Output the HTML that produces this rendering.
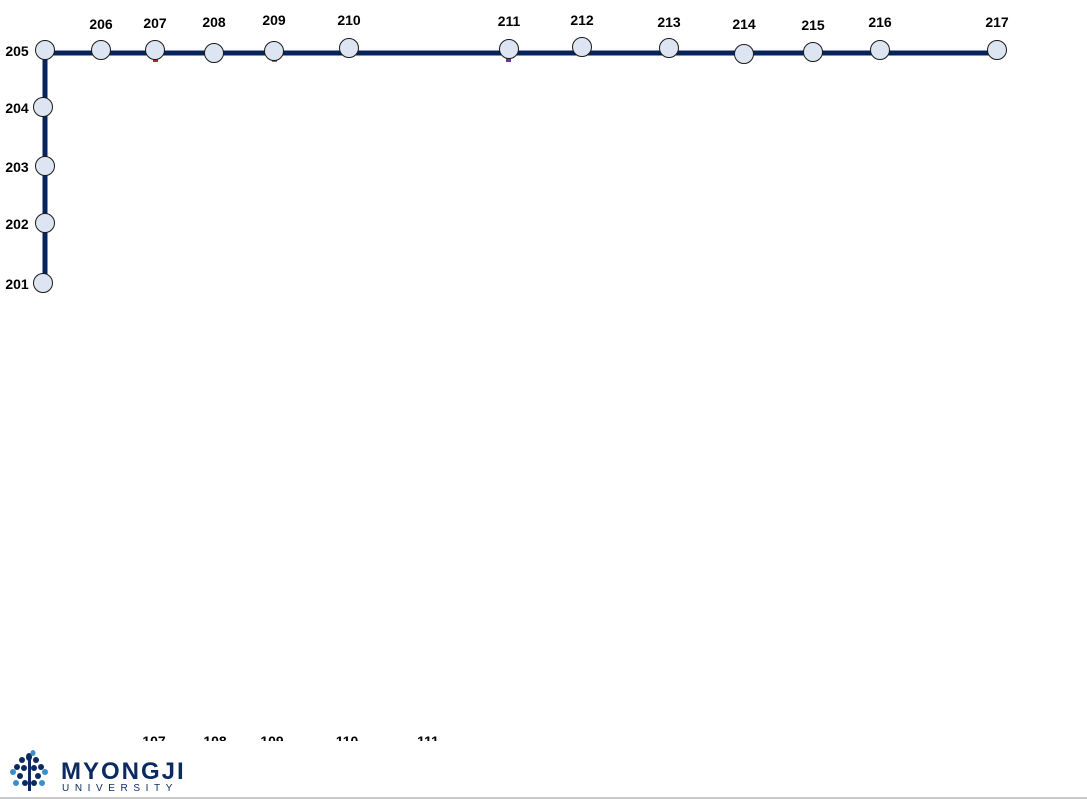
<!DOCTYPE html>
<html><head><meta charset="utf-8">
<style>
body{margin:0;width:1087px;height:799px;background:#fff;overflow:hidden;font-family:"Liberation Sans",sans-serif;}
svg{position:absolute;left:0;top:0}
</style></head>
<body>
<svg id="map" width="1087" height="799">
  <line x1="45" y1="53" x2="997" y2="53" stroke="#06245c" stroke-width="5"/>
  <line x1="45" y1="50" x2="45" y2="283" stroke="#06245c" stroke-width="5"/>
  <rect x="153" y="58" width="5" height="4" fill="#a0302a"/>
  <rect x="272" y="58" width="5" height="4" fill="#3a7fc8"/>
  <rect x="506" y="57" width="5" height="5" fill="#7030a0"/>
  <g id="stations"></g>
  <g font-size="14" font-weight="bold">
    <svg x="0" y="733" width="1087" height="8" overflow="hidden">
      <text x="154" y="13" text-anchor="middle">107</text>
      <text x="215" y="13" text-anchor="middle">108</text>
      <text x="272" y="13" text-anchor="middle">109</text>
      <text x="347" y="13" text-anchor="middle">110</text>
      <text x="428" y="13" text-anchor="middle">111</text>
    </svg>
  </g>
  <g>
    <g fill="#0b2a5f">
      <rect x="28" y="758" width="3" height="33"/>
      <ellipse cx="29" cy="757" rx="3" ry="4"/><ellipse cx="22" cy="760" rx="3" ry="3"/><ellipse cx="36" cy="760" rx="3" ry="3"/>
      <ellipse cx="17" cy="767" rx="3" ry="3"/><ellipse cx="41" cy="767" rx="3" ry="3"/><ellipse cx="24" cy="768" rx="3" ry="3"/><ellipse cx="34" cy="768" rx="3" ry="3"/>
      <ellipse cx="20" cy="776" rx="3" ry="3"/><ellipse cx="38" cy="776" rx="3" ry="3"/><ellipse cx="25" cy="783" rx="3" ry="3"/><ellipse cx="34" cy="783" rx="3" ry="3"/>
    </g>
    <g fill="#3a8fc8">
      <ellipse cx="13" cy="772" rx="3" ry="3"/><ellipse cx="45" cy="772" rx="3" ry="3"/><ellipse cx="16" cy="783" rx="3" ry="3"/><ellipse cx="42" cy="783" rx="3" ry="3"/><ellipse cx="33" cy="753" rx="2.5" ry="3"/>
    </g>
    <text x="61" y="779" font-size="24" font-weight="bold" fill="#0b2a5f" letter-spacing="2">MYONGJI</text>
    <text x="62" y="791" font-size="10" fill="#0b2a5f" letter-spacing="5.6">UNIVERSITY</text>
  </g>
  <line x1="0" y1="798" x2="1087" y2="798" stroke="#c8c8c8" stroke-width="2"/>
</svg>
<script>
const stationIds = ['201','202','203','204','205','206','207','208','209','210','211','212','213','214','215','216','217'];
const stationX = [43,45,45,43,45,101,155,214,274,349,509,582,669,744,813,880,997];
const stationY = [283,223,166,107,50,50,50,53,51,48,49,47,48,54,52,50,50];
const labelSide = ['left','left','left','left','left','top','top','top','top','top','top','top','top','top','top','top','top'];
const labelDY = [0,0,0,0,0,-21,-22,-26,-26,-23,-23,-22,-21,-25,-22,-23,-23];
const g = document.getElementById('stations');
const NS = 'http://www.w3.org/2000/svg';
for (let i = 0; i < stationIds.length; i++) {
  const c = document.createElementNS(NS, 'circle');
  c.setAttribute('cx', stationX[i]); c.setAttribute('cy', stationY[i]); c.setAttribute('r', 9.5);
  c.setAttribute('fill', '#dce5f1'); c.setAttribute('stroke', '#1a1a1a'); c.setAttribute('stroke-width', 1);
  
  
  g.appendChild(c);
  const t = document.createElementNS(NS, 'text');
  t.textContent = stationIds[i];
  t.setAttribute('font-size', '14'); t.setAttribute('font-weight', 'bold');
  if (labelSide[i] === 'left') {
    t.setAttribute('x', 17); t.setAttribute('y', stationY[i] + 6); t.setAttribute('text-anchor', 'middle');
  } else {
    t.setAttribute('x', stationX[i]); t.setAttribute('y', stationY[i] + labelDY[i]); t.setAttribute('text-anchor', 'middle');
  }
  
  
  g.appendChild(t);
}
</script>
</body></html>
